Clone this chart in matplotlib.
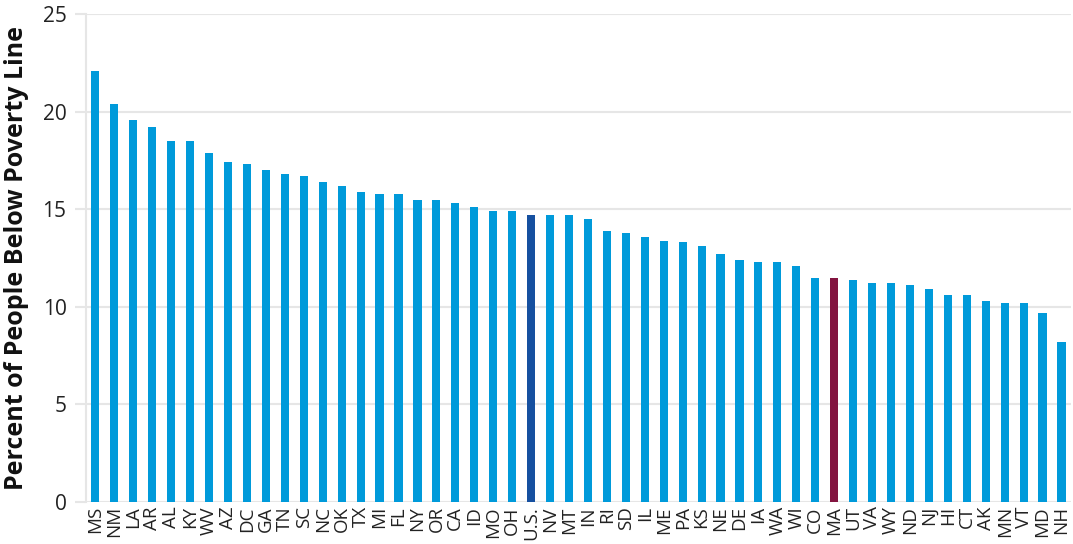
import matplotlib
matplotlib.use("Agg")
import matplotlib.pyplot as plt

states = ["MS", "NM", "LA", "AR", "AL", "KY", "WV", "AZ", "DC", "GA", "TN", "SC", "NC", "OK",
          "TX", "MI", "FL", "NY", "OR", "CA", "ID", "MO", "OH", "U.S.", "NV", "MT", "IN", "RI",
          "SD", "IL", "ME", "PA", "KS", "NE", "DE", "IA", "WA", "WI", "CO", "MA", "UT", "VA",
          "WY", "ND", "NJ", "HI", "CT", "AK", "MN", "VT", "MD", "NH"]
poverty = [22.1, 20.4, 19.6, 19.2, 18.5, 18.5, 17.9, 17.4, 17.3, 17.0, 16.8, 16.7, 16.4, 16.2,
           15.9, 15.8, 15.8, 15.5, 15.5, 15.3, 15.1, 14.9, 14.9, 14.7, 14.7, 14.7, 14.5, 13.9,
           13.8, 13.6, 13.4, 13.3, 13.1, 12.7, 12.4, 12.3, 12.3, 12.1, 11.5, 11.5, 11.4, 11.2,
           11.2, 11.1, 10.9, 10.6, 10.6, 10.3, 10.2, 10.2, 9.7, 8.2]
yticks = [0, 5, 10, 15, 20, 25]

base_color = "#009ADA"
highlight = {"U.S.": "#1650A0", "MA": "#831440"}
colors = [highlight.get(s, base_color) for s in states]

plt.rcParams['font.family'] = ['Open Sans', 'DejaVu Sans']

fig = plt.figure(figsize=(10.73, 5.44), dpi=100)
ax = fig.add_axes([0.0801, 0.0772, 0.918, 0.8968])

x = list(range(len(states)))
ax.bar(x, poverty, width=0.43, color=colors, zorder=3)

ax.set_xlim(-0.5, len(states) - 0.5)
ax.set_ylim(0, 25)
ax.set_yticks(yticks)
ax.set_yticklabels([str(v) for v in yticks], fontsize=15, color="#222222")
ax.set_xticks(x)
ax.set_xticklabels(states, rotation=90, fontsize=13.5, color="#222222")
ax.tick_params(axis='x', length=0, pad=3)
ax.tick_params(axis='y', length=8, width=1.5, color="#e6e6e6", pad=6)

ax.grid(axis='y', color="#e6e6e6", linewidth=1.5, zorder=0)
for side in ["top", "right"]:
    ax.spines[side].set_visible(False)
ax.spines["bottom"].set_visible(False)
ax.spines["left"].set_color("#e6e6e6")
ax.spines["left"].set_linewidth(1.5)

ax.set_ylabel("Percent of People Below Poverty Line", fontsize=18, fontweight="bold",
              color="#111111", labelpad=10)

fig.savefig("out.png", dpi=100)
